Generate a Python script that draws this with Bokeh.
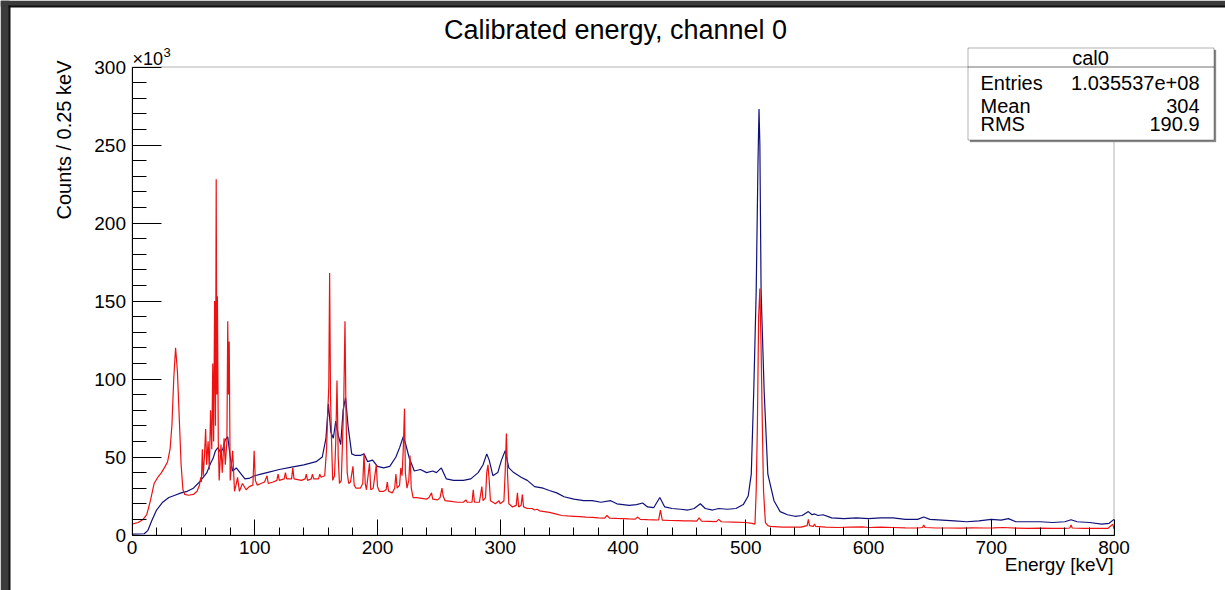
from bokeh.plotting import figure
from bokeh.models import Range1d, FixedTicker, Label, BoxAnnotation, LinearAxis
from bokeh.embed import file_html
from bokeh.resources import INLINE
import math

# ---------------- data (energy in keV, counts in units of 10^3 per 0.25 keV) ----------------
blue_energy = [0, 10, 13, 16, 20, 25, 30, 35, 40, 45, 50, 55, 58, 61, 64, 66, 68, 70, 72, 74, 76, 78, 80, 82,
               85, 88, 92, 96, 100, 105, 110, 120, 130, 140, 150, 155, 158, 160, 162, 164, 166, 168, 170, 172,
               174, 176, 179, 182, 186, 189, 192, 196, 200, 205, 210, 215, 218, 221, 223, 226, 230, 235, 240,
               245, 248, 252, 256, 262, 270, 276, 282, 286, 289, 291, 294, 298, 301, 304, 307, 311, 317, 322,
               328, 335, 340, 346, 352, 360, 368, 375, 382, 390, 395, 400, 405, 411, 416, 420, 425, 430, 434,
               440, 447, 453, 458, 463, 467, 473, 478, 485, 492, 498, 502, 504.5, 506.5, 508.5, 510, 510.8,
               511.5, 512.5, 515, 518, 523, 528, 534, 540, 546, 551, 554, 556, 559, 563, 570, 580, 590, 600,
               610, 620, 630, 640, 645, 650, 660, 670, 680, 690, 700, 708, 714, 720, 730, 740, 750, 760, 765,
               770, 780, 790, 796, 800]
blue_counts = [0.5, 0.8, 3, 9, 16, 21, 24, 25.5, 27, 28, 30, 34, 37, 40, 46, 49, 54, 56, 53, 55, 61, 63, 50, 41,
               43, 40, 36, 36.5, 38, 39, 40, 42, 43.5, 45, 47, 50, 62, 84, 66, 62, 73, 64, 58, 80,
               88, 70, 52, 51, 51, 52, 47, 48, 44, 43, 44, 50, 56, 63, 58, 49, 41, 42, 40,
               41, 40, 43, 36, 35, 35, 36, 40, 45, 52, 48, 38, 40, 48, 54, 43, 40, 37, 35,
               31, 30, 28.5, 27, 24.5, 23, 22, 22, 21, 22, 20, 19.5, 19, 19.5, 20.5, 18, 17.5, 24, 18,
               17, 16.5, 16, 17, 20, 17, 16, 17, 16.5, 17, 19.5, 25, 39, 92, 156, 240, 273,
               250, 156, 92, 39, 22, 15, 13, 12, 12.5, 15, 13, 13.5, 12.5, 13, 11, 10.5, 11, 10.5,
               11, 11, 10, 10, 11.5, 10, 9.5, 9, 8.5, 9, 10, 9.5, 10.5, 8.5, 8.5, 8.5, 8, 8.5, 9.8,
               8.5, 8, 7, 7.5, 10]

red_energy = [0, 5, 9, 12, 15, 18, 21, 24, 27, 29, 31, 32.5, 34, 35.5, 37, 38.5, 40, 41.5, 43, 46, 50, 53, 55, 56,
              56.5, 57.3, 58, 59, 60, 60.8, 62, 63, 64, 65, 65.8, 66.5, 67.3, 68, 68.6, 69.1, 69.6, 70.3, 71,
              72.5, 73.5, 75, 76, 77.3, 78, 78.6, 79.2, 80, 82, 83.5, 85, 86, 87.5, 90, 93, 95.5, 98.5, 99.5,
              100.5, 102, 105, 108, 110, 111, 115, 118, 119, 120, 124, 125, 126, 130, 131, 132, 138, 141, 142,
              143, 146, 147, 148, 152, 153, 154, 157, 158.5, 159.5, 160.3, 161, 161.7, 162.5, 163.5, 165, 166,
              167, 168, 169, 170.5, 171.5, 172.5, 173.5, 174.3, 175.3, 176.5, 178, 180, 181, 182.5, 186, 188,
              189, 190, 191, 193.5, 194.5, 196.5, 199, 200, 201.5, 205, 207, 208, 209, 212, 214, 215, 216, 218,
              219, 220, 221, 222, 222.7, 224, 225.5, 226.5, 227.5, 229, 232, 236, 240, 242, 244, 245, 249, 251,
              252.5, 253.5, 255, 260, 265, 270, 272, 273, 277, 278, 279, 283, 285, 286, 288, 289, 290, 291, 292,
              296, 299, 300, 303, 304, 305, 306, 307, 310, 313, 314, 315, 317, 318, 319, 322, 326, 328, 330, 332,
              336, 340, 345, 350, 355, 360, 365, 370, 375, 380, 385, 387, 389, 395, 400, 405, 410, 412, 414, 420,
              425, 429, 430.5, 432, 438, 445, 450, 455, 460, 462, 464, 470, 476, 478, 480, 490, 500, 505, 507.5,
              508.5, 509.5, 510.5, 511.5, 512.5, 513.5, 514.5, 516, 518, 520, 530, 540, 545, 550, 551, 552, 555,
              556, 557, 565, 575, 585, 595, 600, 610, 620, 630, 640, 644, 645, 646, 655, 665, 675, 685, 695, 702,
              710, 720, 730, 740, 750, 760, 764, 765, 766, 775, 785, 795, 799, 800]
red_counts = [7, 8, 10, 13, 22, 33, 37, 40, 44, 47, 55, 70, 100, 120, 105, 75, 45, 29, 26, 25.5, 26, 28, 32, 37,
              34, 55, 38, 50, 68, 45, 60, 42, 80, 55, 110, 60, 150, 70, 228, 90, 153, 60, 35,
              58, 40, 62, 45, 60, 137, 90, 124, 35, 54, 28, 33, 37, 28, 33, 29, 31, 32, 54,
              35, 32, 33, 34, 38, 33, 34, 35, 39, 35, 36, 40, 36, 36, 43, 36, 35, 36, 39,
              35, 36, 39, 36, 36, 39, 37, 38, 55, 79, 95, 168, 90, 62, 35, 38, 60,
              99, 50, 33, 35, 60, 85, 137, 80, 40, 33, 34, 44, 32, 30, 30, 33,
              52, 33, 29, 46, 29, 30, 45, 31, 28, 28, 29, 34, 28, 27, 30, 39, 30, 32,
              43, 38, 55, 81, 40, 30, 35, 51, 30, 24, 24, 23.5, 23, 24, 27, 23, 22.5, 24,
              30, 25, 22, 21.5, 21, 21, 22.5, 21, 21, 29, 21, 21, 31, 22, 24, 40, 45, 35, 22,
              20, 22, 20, 22, 40, 65, 38, 20, 18, 19, 27, 18, 19, 26, 18, 17, 17, 16, 16.5, 15.5,
              15, 14.5, 13.5, 12.5, 12.2, 12, 11.8, 11.5, 11.3, 11, 10.8, 12.5, 10.8, 10.6, 10.5, 10.3, 10.2, 11.5, 10, 9.8,
              9.7, 9.6, 16, 9.5, 9.3, 9.2, 9.1, 9, 8.9, 11, 8.8, 8.7, 8.6, 10, 8.5, 8.3, 8, 7.5, 7,
              28, 71, 140, 158, 120, 71, 28, 8, 6, 5.5, 5, 5, 5, 6, 10, 6, 5.5,
              7, 5.5, 5, 4.8, 5, 5.2, 4.8, 5, 4.8, 4.6, 4.5, 4.8, 6.4, 4.8, 4.5, 4.5, 4.4, 4.6, 4.5, 4.6,
              4.8, 4.4, 4.3, 4.4, 4.3, 4.3, 4.5, 6.4, 4.5, 4.3, 4.2, 4.2, 7, 4]

x_ticks = [0, 100, 200, 300, 400, 500, 600, 700, 800]
y_ticks = [0, 50, 100, 150, 200, 250, 300]
x_limits = (0, 800)
y_limits = (0, 300)

title_text = "Calibrated energy, channel 0"
x_title = "Energy [keV]"
y_title = "Counts / 0.25 keV"
stats_name = "cal0"
stats_rows = [("Entries", "1.035537e+08"), ("Mean", "304"), ("RMS", "190.9")]

# ---------------- geometry: the plot box inside the canvas (pixels) ----------------
W, H = 1225, 590
BOX_L, BOX_R, BOX_T, BOX_B = 131.5, 1113.5, 66.5, 534.5
sx = (BOX_R - BOX_L) / (x_limits[1] - x_limits[0])
sy = (BOX_B - BOX_T) / (y_limits[1] - y_limits[0])
xr = Range1d(x_limits[0] - BOX_L / sx, x_limits[1] + (W - BOX_R) / sx)
yr = Range1d(y_limits[0] - (H - BOX_B) / sy, y_limits[1] + BOX_T / sy)

FONT = "Liberation Sans"
p = figure(width=W, height=H, output_backend="svg", toolbar_location=None,
           x_range=xr, y_range=yr, title=None,
           x_axis_location=None, y_axis_location=None,
           min_border_left=0, min_border_right=0, min_border_top=0, min_border_bottom=0)
p.background_fill_color = "white"
p.border_fill_color = "white"
p.outline_line_color = None
p.xgrid.visible = False
p.ygrid.visible = False

xa = LinearAxis(fixed_location=0, bounds=x_limits,
                ticker=FixedTicker(ticks=x_ticks, minor_ticks=list(range(0, 801, 20))))
xa.major_tick_in = 16
xa.major_tick_out = 0
xa.minor_tick_in = 8
xa.minor_tick_out = 0
xa.major_label_standoff = 6
ya = LinearAxis(fixed_location=0, bounds=y_limits,
                ticker=FixedTicker(ticks=y_ticks, minor_ticks=list(range(0, 301, 10))))
ya.major_tick_in = 29
ya.major_tick_out = 0
ya.minor_tick_in = 14
ya.minor_tick_out = 0
ya.major_label_standoff = 6
for ax in (xa, ya):
    ax.axis_line_color = "black"
    ax.major_tick_line_color = "black"
    ax.minor_tick_line_color = "black"
    ax.major_label_text_font = FONT
    ax.major_label_text_font_size = "19px"
    ax.major_label_text_color = "black"
p.add_layout(xa, "below")
p.add_layout(ya, "left")

p.line(blue_energy, blue_counts, line_color="#10107a", line_width=1.2)
p.line(red_energy, red_counts, line_color="#ee1111", line_width=1.2)


def lab(x, y, text, size, align="left", angle=0.0):
    p.add_layout(Label(x=x, y=y, x_units="canvas", y_units="canvas", text=text, text_font=FONT,
                       text_font_size=size, text_align=align, text_baseline="middle",
                       angle=angle, text_color="black", level="overlay"))


def box(l, r, t, b, fill, line, alpha=1.0, lw=1):
    p.add_layout(BoxAnnotation(left=l, right=r, top=t, bottom=b,
                               left_units="canvas", right_units="canvas",
                               top_units="canvas", bottom_units="canvas",
                               fill_color=fill, fill_alpha=alpha, line_color=line, line_width=lw,
                               level="annotation"))


# ROOT frame around the plot box
box(BOX_L, BOX_R, BOX_T, BOX_B, "white", "black", 0.0)

# dark window edge of the original screenshot
box(0, 9, 0, H, "#3b3b3b", None)
box(0, W, 0, 6, "#3b3b3b", None)
box(8, 10, 5, H, "#111111", None)
box(8, W, 5, 7, "#111111", None)

# stats box (shadow, body, separator)
box(969.5, 1215.5, 49.5, 141.5, "#888888", "#888888")
box(967.5, 1213.5, 47.5, 139.5, "white", "black")
box(967.5, 1213.5, 66.5, 66.5, "white", "black", 0.0)

lab(615, 29, title_text, "27px", "center")
lab(1113, 564, x_title, "19px", "right")
lab(63, 60, y_title, "20px", "right", math.pi / 2)
lab(132, 58, "\u00d710", "18px", "left")
lab(163, 52, "3", "13px", "left")

lab(1090, 57, stats_name, "20px", "center")
for (name, val), yy in zip(stats_rows, [82, 105, 123]):
    lab(980, yy, name, "20px", "left")
    lab(1199, yy, val, "20px", "right")

open("out.html", "w").write(file_html(p, INLINE))
